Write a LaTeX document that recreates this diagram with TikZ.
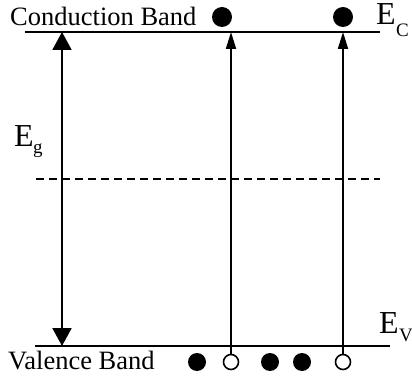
\documentclass[tikz,border=0pt]{standalone}
\usepackage{fontspec}
\setmainfont{Liberation Serif}
\usetikzlibrary{arrows.meta}
\begin{document}
\begin{tikzpicture}[x=1pt,y=-1pt,
  band/.style={line width=2.4pt},
  lbl/.style={anchor=base west,inner sep=0pt,font=\fontsize{26.5}{26.5}\selectfont},
  bigE/.style={anchor=base west,inner sep=0pt,font=\fontsize{32}{32}\selectfont},
  subs/.style={anchor=base west,inner sep=0pt,font=\fontsize{19}{19}\selectfont},
  filled/.style={circle,fill=black,inner sep=0pt},
  hole/.style={circle,draw=black,line width=1.6pt,fill=white,inner sep=0pt,minimum size=15pt},
  bigarrow/.style={line width=2pt,{Triangle[length=18pt,width=19pt]}-{Triangle[length=18pt,width=19pt]}},
  smallarrow/.style={line width=2pt,-{Triangle[length=17pt,width=10pt]}}]
\useasboundingbox (0,0) rectangle (412,379);
% bands
\coordinate (cl) at (25,32); \coordinate (cr) at (380,32);
\coordinate (vl) at (35,346); \coordinate (vr) at (390,346);
\coordinate (dl) at (36,179); \coordinate (dr) at (380,179);
\draw[band] (cl) -- (cr);
\draw[band] (vl) -- (vr);
\draw[line width=2pt,dash pattern=on 8pt off 5pt] (dl) -- (dr);
% labels
\node[lbl] (cb) at (10,26) {Conduction Band};
\node[lbl] (vb) at (8,369) {Valence Band};
\node[bigE] (ec) at (376,25) {E};
\node[subs] (ecs) at (396,37) {C};
\node[bigE] (eg) at (14,147) {E};
\node[subs] (egs) at (33,154) {g};
\node[bigE] (ev) at (379,333) {E};
\node[subs] (evs) at (399,341) {V};
% electrons in conduction band
\node[filled,minimum size=20pt] (e1) at (222,17) {};
\node[filled,minimum size=20pt] (e2) at (343,17) {};
% valence band particles
\node[filled,minimum size=18pt] (v1) at (197,362) {};
\node[hole] (h1) at (231,362) {};
\node[filled,minimum size=18pt] (v2) at (270,362) {};
\node[filled,minimum size=18pt] (v3) at (302,362) {};
\node[hole] (h2) at (343,362) {};
% arrows
\coordinate (gt) at (62,32); \coordinate (gb) at (62,346);
\draw[bigarrow] (gb) -- (gt);
\coordinate (t1) at (231,32); \coordinate (t2) at (343,32);
\draw[smallarrow] (h1.north) -- (t1);
\draw[smallarrow] (h2.north) -- (t2);
\end{tikzpicture}
\end{document}
